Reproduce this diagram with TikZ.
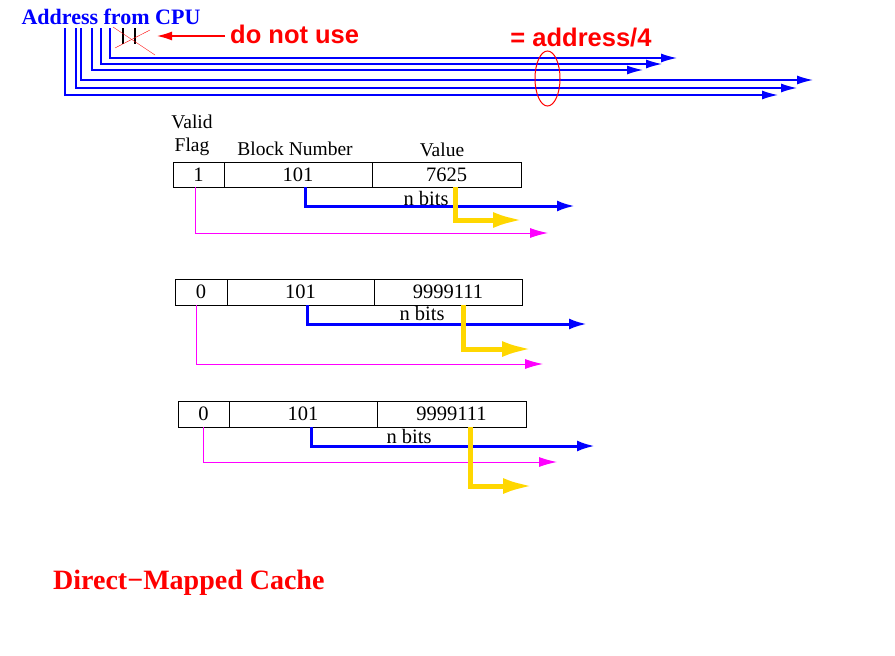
\documentclass[tikz,border=0pt]{standalone}
\usepackage{fontspec}
\setmainfont{Liberation Serif}
\newfontfamily\helv{Liberation Sans}
\usetikzlibrary{arrows.meta,positioning}
\definecolor{xgold}{RGB}{255,215,0}
\definecolor{xmagenta}{RGB}{255,0,255}
\tikzset{
  cell/.style={draw, line width=0.8pt, inner sep=0pt, outer sep=0pt, minimum height=25, font=\fontsize{20.5}{24}\selectfont},
  lbl/.style={inner sep=0pt, anchor=base, font=\fontsize{19.5}{23}\selectfont},
  nbits/.style={inner sep=0pt, anchor=base, font=\fontsize{20.5}{24}\selectfont},
  addrline/.style={blue, line width=1.3pt, -{Latex[length=16pt,width=9pt]}},
  blockline/.style={blue, line width=3pt, -{Latex[length=18pt,width=11pt]}},
  valueline/.style={xgold, line width=5pt, -{Latex[length=30pt,width=16pt]}},
  validline/.style={xmagenta, line width=1pt, -{Latex[length=18pt,width=10pt]}},
}

\begin{document}
\begin{tikzpicture}[x=1pt,y=-1pt]
			%%%%% START %%%%%
			\useasboundingbox (0,0) rectangle (895,656);
			\def\bold{\bfseries}
			\def\big{\fontsize{25.5}{30}\selectfont}
			
			% address from the cpu
			\node[lbl, blue, font=\fontsize{22}{26}\selectfont\bold] (cpu) at (111,24) {Address from CPU};
			\foreach \i/\x/\y/\e in {0/65/95/778, 1/76/88/797, 2/81/80/813, 3/92/70/643, 4/101/64/662, 5/110/58/677}{
				\coordinate (bit\i) at (\x,28);
				\coordinate (end\i) at (\e,\y);
				\draw[addrline] (bit\i) |- (end\i);
			}
			
			% the two low bits
			\draw[line width=1.3pt] (123,28) -- (123,44);
			\draw[line width=1.3pt] (135,28) -- (135,44);
			\draw[red] (113,27) -- (155,55);
			\draw[red] (115,48) -- (150,30);
			\node[lbl, anchor=base west, red, font=\helv\bold\big] (dnu) at (230,43) {do not use};
			\coordinate (xm) at (157,36);
			\draw[red, line width=1.3pt, -{Latex[length=15pt,width=9pt]}] (dnu.west |- xm) ++(-5,0) -- (xm);
			
			\node[lbl, red, font=\helv\bold\big] (quot) at (581,46) {= address/4};
			\draw[red, line width=1pt] (547.5,78.5) ellipse [x radius=12.5, y radius=27.5];
			
			% headings
			\node[lbl] (valid) at (192,128) {Valid};
			\node[lbl] (flag) at (192,151) {Flag};
			\node[lbl] (blkno) at (295,155) {Block Number};
			\node[lbl] (value) at (442,156) {Value};
			
			% first line
			\node[cell, minimum width=51] (f1) at (198.5,174.5) {1};
			\node[cell, minimum width=148, right=0pt of f1] (b1) {101};
			\node[cell, minimum width=149, right=0pt of b1] (v1) {7625};
			\node[nbits] (n1) at (426,205) {n bits};
			\coordinate (fe1) at (548,233);
			\coordinate (be1) at (575,206);
			\coordinate (ve1) at (523,220);
			\draw[validline] ([xshift=-3.5pt]f1.south) |- (fe1);
			\draw[blockline] ([xshift=7pt]b1.south) |- (be1);
			\draw[valueline] ([xshift=8.5pt]v1.south) |- (ve1);
			
			% second line
			\node[cell, minimum width=52, minimum height=26] (f2) at (201,292) {0};
			\node[cell, minimum width=147, minimum height=26, right=0pt of f2] (b2) {101};
			\node[cell, minimum width=148, minimum height=26, right=0pt of b2] (v2) {9999111};
			\node[nbits] (n2) at (422,320) {n bits};
			\coordinate (fe2) at (543,364);
			\coordinate (be2) at (587,324);
			\coordinate (ve2) at (532,349);
			\draw[validline] ([xshift=-5pt]f2.south) |- (fe2);
			\draw[blockline] ([xshift=6.5pt]b2.south) |- (be2);
			\draw[valueline] ([xshift=15pt]v2.south) |- (ve2);
			
			% third line
			\node[cell, minimum width=51, minimum height=26] (f3) at (203.5,414) {0};
			\node[cell, minimum width=148, minimum height=26, right=0pt of f3] (b3) {101};
			\node[cell, minimum width=149, minimum height=26, right=0pt of b3] (v3) {9999111};
			\node[nbits] (n3) at (409,443) {n bits};
			\coordinate (fe3) at (557,462);
			\coordinate (be3) at (595,446);
			\coordinate (ve3) at (533,486);
			\draw[validline] ([xshift=-0.5pt]f3.south) |- (fe3);
			\draw[blockline] ([xshift=8pt]b3.south) |- (be3);
			\draw[valueline] ([xshift=18.5pt]v3.south) |- (ve3);
			
			\node[lbl, anchor=base west, red, font=\fontsize{28}{33}\selectfont\bold] (title) at (53,589) {Direct−Mapped Cache};
			%%%%% END %%%%%
\end{tikzpicture}
\end{document}
